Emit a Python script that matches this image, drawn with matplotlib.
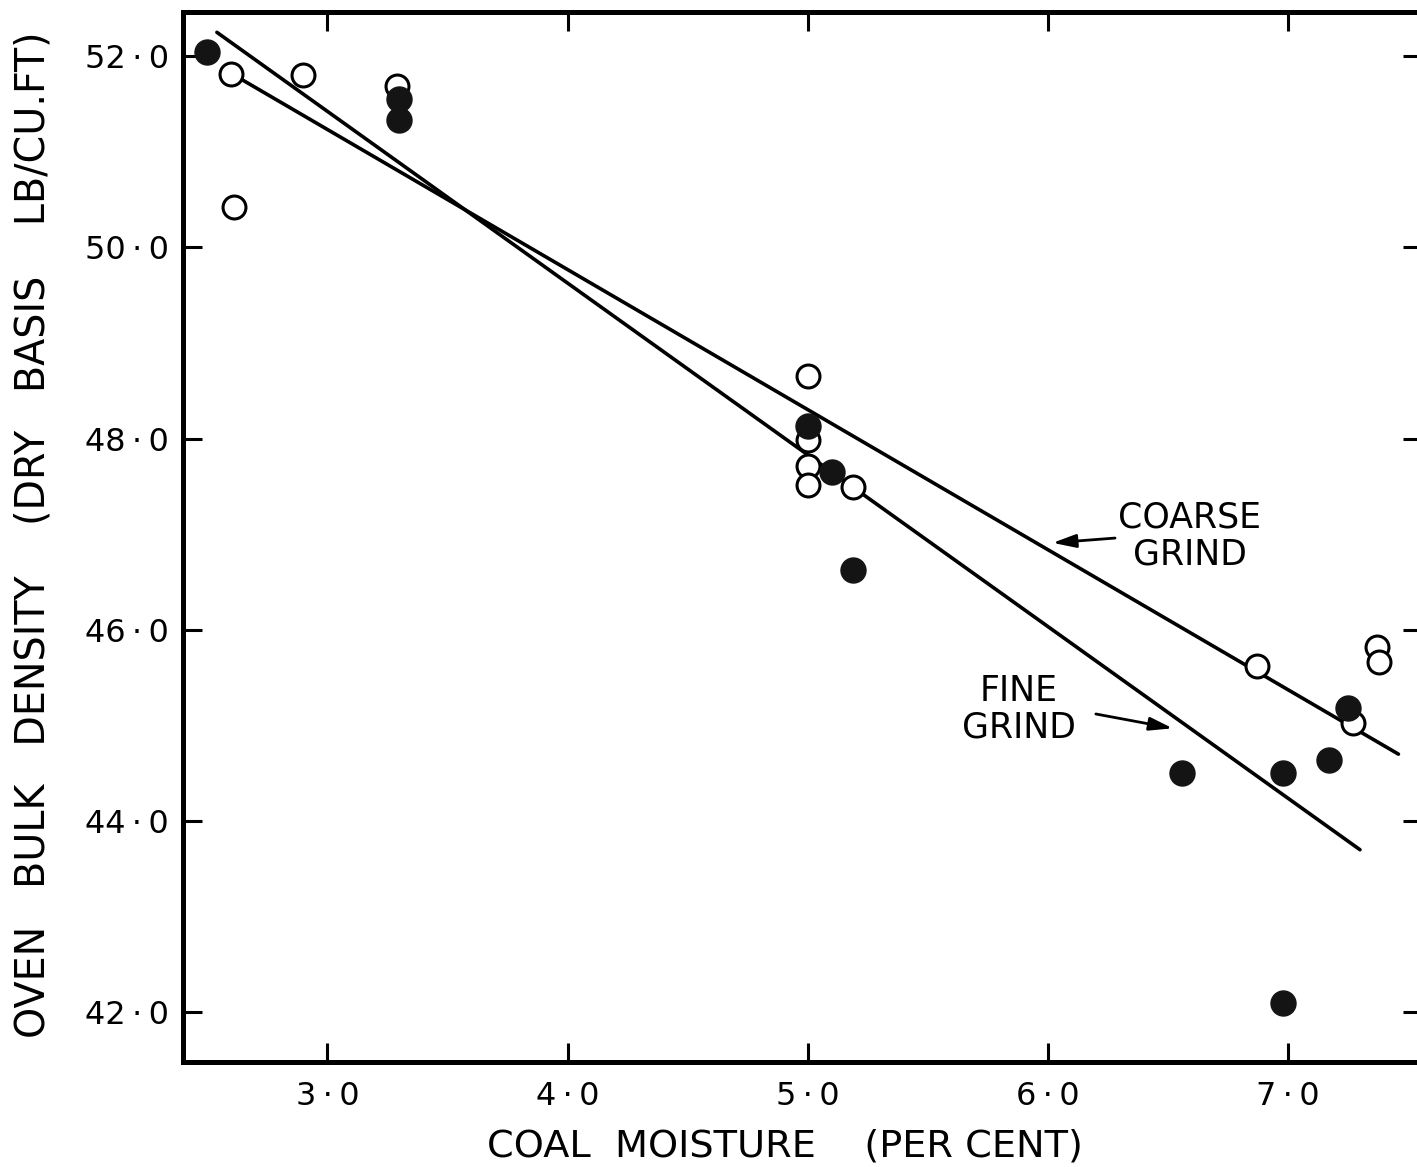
import matplotlib
matplotlib.use("Agg")
import matplotlib.pyplot as plt
from matplotlib.ticker import FuncFormatter, FixedLocator

# --- data ---
# fine grind (filled circles)
fine_moisture = [2.50, 3.30, 3.30, 5.00, 5.10, 5.19, 6.56, 6.98, 7.17, 7.25, 6.98]
fine_density = [52.04, 51.55, 51.33, 48.13, 47.65, 46.63, 44.50, 44.50, 44.64, 45.18, 42.10]

# coarse grind (open circles)
coarse_moisture = [2.60, 2.61, 2.90, 3.29, 5.00, 5.00, 5.00, 5.00, 5.19, 6.87, 7.27, 7.37, 7.38]
coarse_density = [51.81, 50.42, 51.80, 51.69, 48.65, 47.99, 47.71, 47.51, 47.49, 45.62, 45.03, 45.82, 45.66]

# fitted lines (end points)
coarse_fit_x = [2.60, 7.46]
coarse_fit_y = [51.82, 44.70]
fine_fit_x = [2.54, 7.30]
fine_fit_y = [52.25, 43.70]

x_ticks = [3.0, 4.0, 5.0, 6.0, 7.0]
y_ticks = [42.0, 44.0, 46.0, 48.0, 50.0, 52.0]

plt.rcParams['font.family'] = ['DejaVu Sans']

fig = plt.figure(figsize=(14.17, 11.67), dpi=100)
# right spine sits just past the picture edge, as in the scan
ax = fig.add_axes([0.129, 0.090, 0.8745, 0.8995])

ax.plot(coarse_fit_x, coarse_fit_y, color='black', lw=2.6, solid_capstyle='round', zorder=2)
ax.plot(fine_fit_x, fine_fit_y, color='black', lw=2.6, solid_capstyle='round', zorder=2)

ax.plot(coarse_moisture, coarse_density, linestyle='none', marker='o', ms=16.5,
        mfc='white', mec='black', mew=2.2, zorder=3)
ax.plot(fine_moisture, fine_density, linestyle='none', marker='o', ms=18,
        mfc='#141414', mec='#141414', mew=1.0, zorder=4)

# labels + arrows
ax.text(6.59, 46.98, 'COARSE\nGRIND', ha='center', va='center', fontsize=25,
        linespacing=1.1)
ax.text(5.88, 45.17, 'FINE\nGRIND', ha='center', va='center', fontsize=25,
        linespacing=1.1)
arrow_kw = dict(arrowstyle='-|>,head_length=0.7,head_width=0.2', color='black', lw=2.0,
                shrinkA=0, shrinkB=0, mutation_scale=20)
ax.annotate('', xy=(6.02, 46.91), xytext=(6.28, 46.96), arrowprops=arrow_kw)
ax.annotate('', xy=(6.52, 44.97), xytext=(6.20, 45.12), arrowprops=arrow_kw)

ax.set_xlim(2.398, 7.558)
ax.set_ylim(41.48, 52.46)

fmt = FuncFormatter(lambda v, pos: f"{v:.1f}".replace('.', '\u2009·\u2009'))
ax.xaxis.set_major_locator(FixedLocator(x_ticks))
ax.yaxis.set_major_locator(FixedLocator(y_ticks))
ax.xaxis.set_major_formatter(fmt)
ax.yaxis.set_major_formatter(fmt)

ax.tick_params(axis='both', which='major', direction='in', length=14, width=2.2,
               labelsize=23, top=True, right=True)
ax.tick_params(axis='x', pad=14)
ax.tick_params(axis='y', pad=10)

for side in ax.spines.values():
    side.set_linewidth(3.6)

ax.set_xlabel('COAL  MOISTURE    (PER CENT)', fontsize=27.5)
ax.set_ylabel('OVEN   BULK   DENSITY    (DRY   BASIS    LB/CU.FT)', fontsize=28.5)
ax.xaxis.set_label_coords(0.486, -0.063)
ax.yaxis.set_label_coords(-0.104, 0.502)

fig.savefig('out.png', dpi=100)
